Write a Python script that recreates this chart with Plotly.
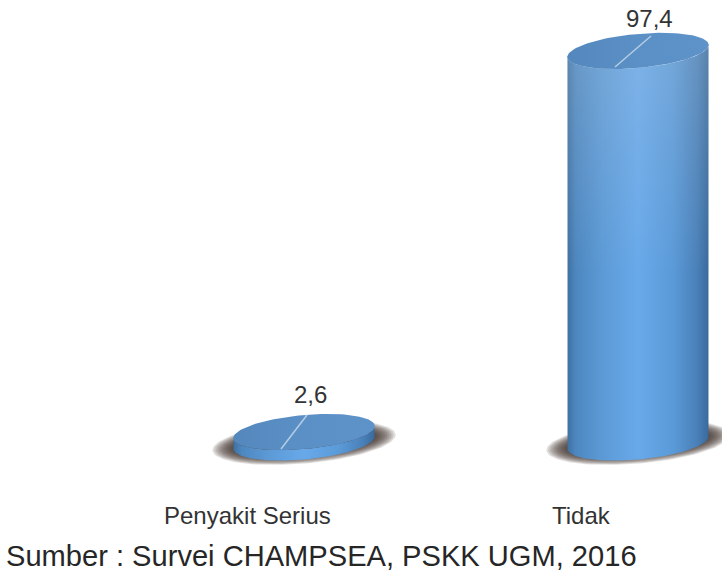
import numpy as np
import plotly.graph_objs as go

# Data
categories = ['Penyakit Serius', 'Tidak']
values = [2.6, 97.4]
value_labels = ['2,6', '97,4']
source_text = 'Sumber : Survei CHAMPSEA, PSKK UGM, 2016'

# Pixel scale of the two axes
W, H = 722, 574
X_PER_PX = 1 / 334
Y_PER_PX = 1 / 4.02
x_range = [-304 * X_PER_PX, (W - 304) * X_PER_PX]
y_range = [-(H - 442.5) * Y_PER_PX, 442.5 * Y_PER_PX]

BODY_SCALE = [[0, '#3f709f'], [0.06, '#4d87c0'], [0.25, '#5c9ad6'], [0.5, '#68a9ea'],
              [0.75, '#5a9ad8'], [0.92, '#4a80b8'], [1, '#386a9c']]
# plotly runs vertical gradients from bottom to top
VEIL_SCALE = [[0, 'rgba(190,205,220,0.0)'], [0.45, 'rgba(190,205,220,0.0)'], [1, 'rgba(190,205,220,0.25)']]
FACE_SCALE = [[0, '#5488bd'], [0.5, '#5b90c6'], [1, '#5e93ca']]


def ellipse(cx, cy, a=71, b=17, tilt=5.2, t0=0, t1=360, n=121):
    t = np.radians(np.linspace(t0, t1, n))
    th = np.radians(tilt)
    dx = a * np.cos(t) * np.cos(th) - b * np.sin(t) * np.sin(th)
    dy = a * np.cos(t) * np.sin(th) + b * np.sin(t) * np.cos(th)
    return cx + dx * X_PER_PX, cy + dy * Y_PER_PX


def area(x, y, **kw):
    return go.Scatter(x=x, y=y, mode='lines', fill='toself', line=dict(width=0),
                      hoverinfo='skip', showlegend=False, **kw)


fig = go.Figure()
line_ends = [((3, 17), (-23, -17)), ((13, 15), (-23, -16))]

for i, val in enumerate(values):
    # soft shadow under the base
    for k in range(12):
        sx, sy = ellipse(i, 0, a=92 - k * 2, b=21 - k * 0.8, tilt=5)
        fig.add_trace(area(sx, sy, fillcolor='rgba(60,50,40,0.15)'))

    # body: lower arc of the base, then back along the top
    bx, by = ellipse(i, 0, t0=174, t1=354)
    tx, ty = ellipse(i, val, t0=354, t1=174)
    body_x = np.concatenate([bx, tx, bx[:1]])
    body_y = np.concatenate([by, ty, by[:1]])
    fig.add_trace(area(body_x, body_y, fillgradient=dict(type='horizontal', colorscale=BODY_SCALE)))
    if val > 10:
        fig.add_trace(area(body_x, body_y, fillgradient=dict(type='vertical', colorscale=VEIL_SCALE)))

    # top face
    fx, fy = ellipse(i, val)
    fig.add_trace(area(fx, fy, fillgradient=dict(type='horizontal', colorscale=FACE_SCALE)))

    # light line across the top face
    (x0, y0), (x1, y1) = line_ends[i]
    fig.add_trace(go.Scatter(x=[i + x0 * X_PER_PX, i + x1 * X_PER_PX],
                             y=[val + y0 * Y_PER_PX, val + y1 * Y_PER_PX],
                             mode='lines', line=dict(color='#b4cde4', width=1.5),
                             hoverinfo='skip', showlegend=False))

    fig.add_annotation(x=i, y=val, text=value_labels[i], showarrow=False,
                       xshift=[6, 11][i], yshift=[38, 32][i],
                       font=dict(family='Liberation Sans', size=24, color='#333333'))

# category labels sit to the left of the cylinders
for name, px in zip(categories, [247, 581]):
    fig.add_annotation(xref='paper', yref='paper', x=px / W, y=1 - 515 / H, text=name,
                       xanchor='center', yanchor='middle', showarrow=False,
                       font=dict(family='Liberation Sans', size=24, color='#333333'))

fig.add_annotation(xref='paper', yref='paper', x=4 / W, y=1 - 556 / H, text=source_text,
                   xanchor='left', yanchor='middle', showarrow=False,
                   font=dict(family='Liberation Sans', size=29.1, color='#262626'))

fig.update_layout(width=W, height=H, margin=dict(l=0, r=0, t=0, b=0),
                  paper_bgcolor='white', plot_bgcolor='white', showlegend=False,
                  xaxis=dict(range=x_range, visible=False, fixedrange=True),
                  yaxis=dict(range=y_range, visible=False, fixedrange=True))

fig.write_html("out.html", config=dict(displayModeBar=False),
               post_script="document.body.style.margin='0';")
